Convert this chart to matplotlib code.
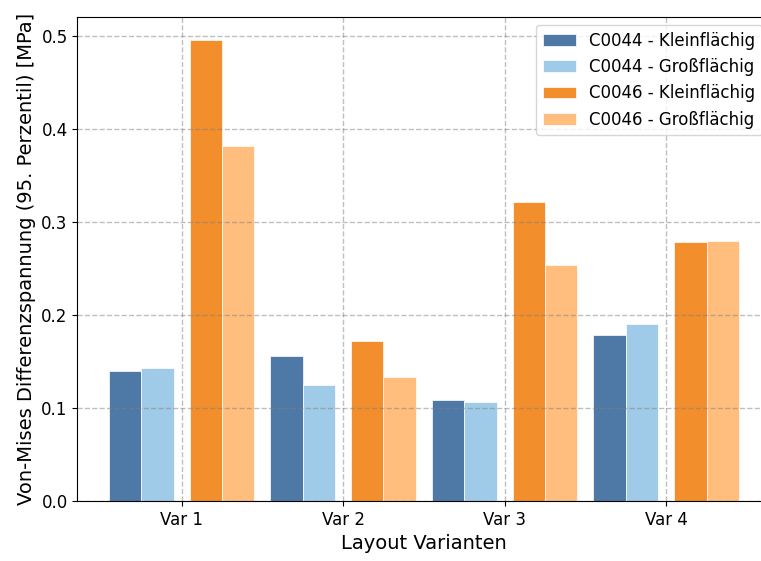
import numpy as np
import matplotlib
matplotlib.use("Agg")
import matplotlib.pyplot as plt

plt.rcParams["font.family"] = ["DejaVu Sans"]

# values
varianten = ["Var 1", "Var 2", "Var 3", "Var 4"]
c0044_klein = [0.140, 0.156, 0.109, 0.179]
c0044_gross = [0.143, 0.125, 0.106, 0.190]
c0046_klein = [0.496, 0.172, 0.321, 0.278]
c0046_gross = [0.382, 0.133, 0.254, 0.280]

series = [
    ("C0044 - Kleinflächig", c0044_klein, "#4e79a7"),
    ("C0044 - Großflächig", c0044_gross, "#a0cbe8"),
    ("C0046 - Kleinflächig", c0046_klein, "#f28e2b"),
    ("C0046 - Großflächig", c0046_gross, "#ffbe7d"),
]
offsets = [-0.35, -0.15, 0.15, 0.35]
w = 0.2

fig = plt.figure(figsize=(7.61, 5.61), dpi=100)
# axes runs a bit past the right edge like in the cropped original
ax = fig.add_axes([0.1017, 0.107, 0.9106, 0.8633])

x = np.arange(len(varianten))
for (label, vals, col), off in zip(series, offsets):
    ax.bar(x + off, vals, w, label=label, color=col, edgecolor="white", linewidth=0.5)

ax.set_xticks(x)
ax.set_xticklabels(varianten, fontsize=12)
ax.tick_params(axis="y", labelsize=12)
ax.set_xlabel("Layout Varianten", fontsize=14)
ax.set_ylabel("Von-Mises Differenzspannung (95. Perzentil) [MPa]", fontsize=14)
ax.grid(True, linestyle="--", color="gray", alpha=0.5, linewidth=1.0)
ax.legend(loc="upper right", fontsize=12)

fig.savefig("out.png", dpi=100)
